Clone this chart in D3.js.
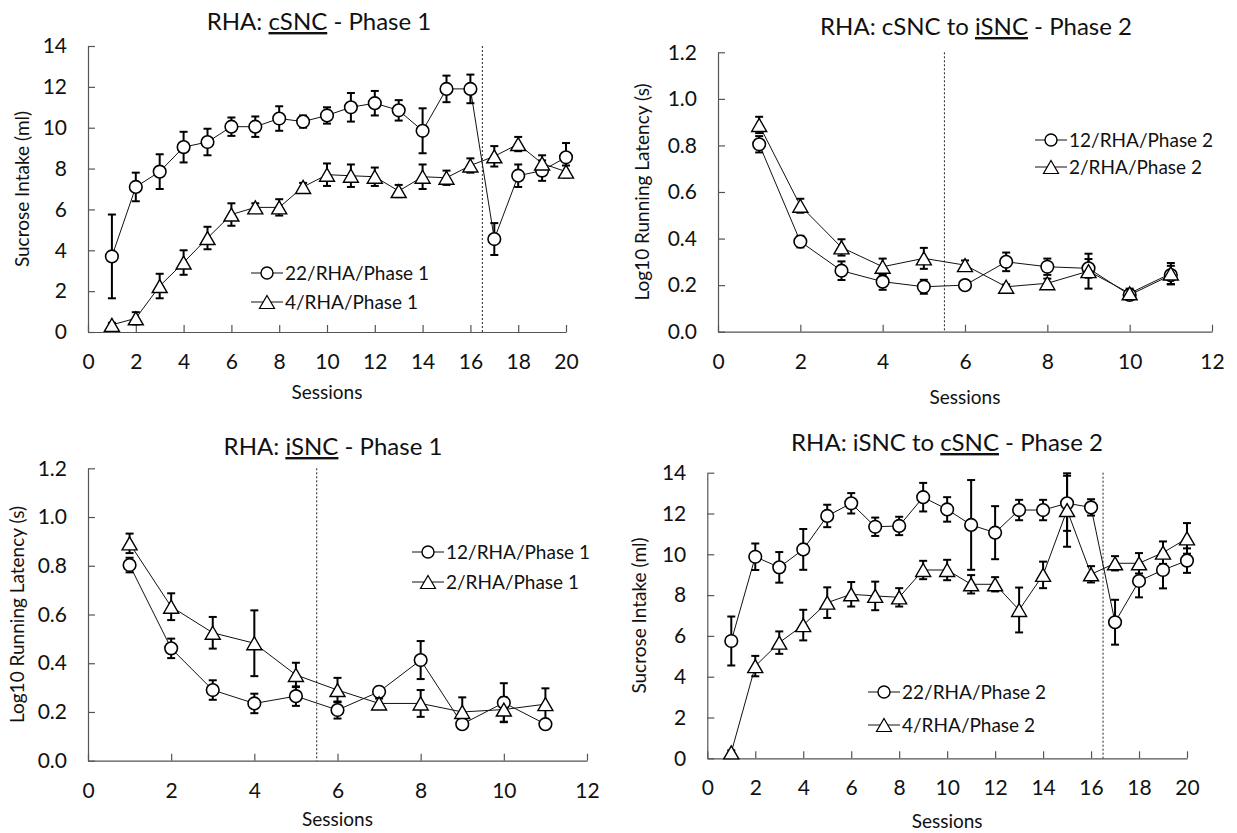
<!DOCTYPE html>
<html>
<head>
<meta charset="utf-8">
<script src="https://cdn.jsdelivr.net/npm/d3@7"></script>
<style>
  body { margin: 0; background: #fff; }
  svg { font-family: Lato, "Open Sans", sans-serif; }
</style>
</head>
<body>
<div id="chart"></div>
<script>
// sessions
const sess20 = [1,2,3,4,5,6,7,8,9,10,11,12,13,14,15,16,17,18,19,20];
const sess11 = [1,2,3,4,5,6,7,8,9,10,11];

// top-left: sucrose intake, phase 1
const p1Circle   = [3.7,7.1,7.85,9.05,9.3,10.05,10.05,10.45,10.3,10.6,11.0,11.2,10.85,9.85,11.9,11.9,4.55,7.65,7.9,8.55];
const p1CircleSE = [2.05,0.7,0.85,0.75,0.65,0.45,0.5,0.6,0.3,0.4,0.7,0.6,0.5,1.1,0.65,0.7,0.78,0.55,0.5,0.7];
const p1Tri      = [0.35,0.67,2.25,3.4,4.6,5.75,6.1,6.1,7.1,7.7,7.65,7.6,6.9,7.6,7.55,8.15,8.6,9.2,8.25,7.85];
const p1TriSE    = [0.1,0.3,0.6,0.6,0.55,0.55,0.2,0.4,0.2,0.55,0.55,0.45,0.3,0.6,0.35,0.35,0.5,0.35,0.4,0.3];

// top-right: latency, phase 2
const p2Circle   = [0.805,0.387,0.262,0.215,0.193,0.2,0.3,0.279,0.272,0.158,0.243];
const p2CircleSE = [0.035,0.025,0.04,0.035,0.03,0.01,0.04,0.035,0.04,0.02,0.04];
const p2Tri      = [0.888,0.541,0.362,0.279,0.315,0.286,0.193,0.208,0.26,0.165,0.25];
const p2TriSE    = [0.035,0.03,0.035,0.035,0.045,0.02,0.01,0.02,0.075,0.02,0.045];

// bottom-left: latency, phase 1
const p3Circle   = [0.803,0.461,0.29,0.235,0.265,0.208,0.283,0.413,0.15,0.238,0.15];
const p3CircleSE = [0.03,0.04,0.04,0.04,0.04,0.035,0.02,0.078,0.01,0.08,0.01];
const p3Tri      = [0.892,0.632,0.525,0.482,0.352,0.29,0.235,0.235,0.2,0.21,0.232];
const p3TriSE    = [0.04,0.055,0.065,0.135,0.05,0.05,0.02,0.055,0.06,0.05,0.065];

// bottom-right: sucrose intake, phase 2
const p4Circle   = [5.75,9.88,9.36,10.24,11.88,12.5,11.35,11.39,12.8,12.2,11.44,11.06,12.17,12.17,12.5,12.3,6.67,8.69,9.23,9.69];
const p4CircleSE = [1.2,0.65,0.75,1.0,0.55,0.5,0.45,0.45,0.7,0.6,2.2,1.3,0.5,0.5,1.35,0.4,1.1,0.8,0.9,0.6];
const p4Tri      = [0.29,4.52,5.67,6.53,7.63,8.04,7.96,7.89,9.23,9.23,8.53,8.53,7.27,8.99,12.17,9.02,9.56,9.56,10.08,10.78];
const p4TriSE    = [0.1,0.5,0.55,0.75,0.75,0.6,0.7,0.45,0.45,0.5,0.45,0.35,1.1,0.65,1.8,0.4,0.35,0.5,0.55,0.75];

const intakeTicks = [0,2,4,6,8,10,12,14];
const latencyTicks = [0,0.2,0.4,0.6,0.8,1.0,1.2];
const sess20Ticks = [0,2,4,6,8,10,12,14,16,18,20];
const sess11Ticks = [0,2,4,6,8,10,12];

const svg = d3.select('#chart').append('svg')
  .attr('width', 1237).attr('height', 833);

const triPath = 'M0,-6.5L7.5,6.5L-7.5,6.5Z';

function panel(o) {
  var x = d3.scaleLinear().domain(o.xDomain).range(o.xRange);
  var y = d3.scaleLinear().domain(o.yDomain).range(o.yRange);
  var g = svg.append('g');

  // axes
  var xa = g.append('g').attr('transform', 'translate(0,' + o.yRange[0] + ')')
    .call(d3.axisBottom(x).tickValues(o.xTicks).tickSizeInner(-7).tickSizeOuter(0).tickPadding(22));
  var ya = g.append('g').attr('transform', 'translate(' + o.xRange[0] + ',0)')
    .call(d3.axisLeft(y).tickValues(o.yTicks).tickSizeInner(-7).tickSizeOuter(0).tickPadding(21)
      .tickFormat(o.yFmt));
  [xa, ya].forEach(function(a) {
    a.attr('font-size', null).attr('font-family', null);
    a.selectAll('path, line').attr('stroke', '#555').attr('stroke-width', 1.2);
    a.selectAll('text').style('font-size', '21px').attr('fill', '#111');
  });

  // divider
  g.append('line')
    .attr('x1', x(o.divider)).attr('x2', x(o.divider))
    .attr('y1', o.yRange[1]).attr('y2', o.yRange[0])
    .attr('stroke', '#222').attr('stroke-width', 1).attr('stroke-dasharray', '2,2');

  var series = [
    {vals: o.circle, se: o.circleSE, shape: 'circle'},
    {vals: o.tri, se: o.triSE, shape: 'tri'}
  ];
  var line = d3.line().x(function(d) { return x(d[0]); }).y(function(d) { return y(d[1]); });

  series.forEach(function(s) {
    g.append('path')
      .attr('d', line(o.sess.map(function(v, i) { return [v, s.vals[i]]; })))
      .attr('fill', 'none').attr('stroke', '#111').attr('stroke-width', 1);
  });

  series.forEach(function(s) {
    var eb = g.append('g').attr('stroke', '#000').attr('stroke-width', 2);
    o.sess.forEach(function(v, i) {
      var cx = x(v), hi = y(s.vals[i] + s.se[i]), lo = y(s.vals[i] - s.se[i]);
      eb.append('line').attr('x1', cx).attr('x2', cx).attr('y1', hi).attr('y2', lo);
      eb.append('line').attr('x1', cx - 4).attr('x2', cx + 4).attr('y1', hi).attr('y2', hi);
      eb.append('line').attr('x1', cx - 4).attr('x2', cx + 4).attr('y1', lo).attr('y2', lo);
    });
  });

  series.forEach(function(s) {
    o.sess.forEach(function(v, i) {
      if (s.shape == 'circle') {
        g.append('circle').attr('cx', x(v)).attr('cy', y(s.vals[i])).attr('r', 6.3)
          .attr('fill', '#fff').attr('stroke', '#000').attr('stroke-width', 1.6);
      } else {
        g.append('path').attr('d', triPath)
          .attr('transform', 'translate(' + x(v) + ',' + y(s.vals[i]) + ')')
          .attr('fill', '#fff').attr('stroke', '#000').attr('stroke-width', 1.4);
      }
    });
  });

  // titles
  var t = g.append('text').attr('x', o.title.x).attr('y', o.title.y)
    .attr('text-anchor', 'middle').style('font-size', '24px').attr('fill', '#111');
  o.title.parts.forEach(function(p) {
    var ts = t.append('tspan').text(p[0]);
    if (p[1]) ts.style('text-decoration', 'underline');
  });

  g.append('text').attr('x', (o.xRange[0] + o.xRange[1]) / 2).attr('y', o.xLabelY)
    .attr('text-anchor', 'middle').style('font-size', '19px').attr('fill', '#111').text('Sessions');

  g.append('text')
    .attr('transform', 'translate(' + o.yLabel.x + ',' + ((o.yRange[0] + o.yRange[1]) / 2) + ') rotate(-90)')
    .attr('text-anchor', 'middle').style('font-size', '19px').attr('fill', '#111').text(o.yLabel.text);

  // legend
  o.legend.names.forEach(function(name, i) {
    var ly = o.legend.y + i * o.legend.dy;
    var lx = o.legend.x;
    g.append('line').attr('x1', lx).attr('x2', lx + 32).attr('y1', ly).attr('y2', ly)
      .attr('stroke', '#111').attr('stroke-width', 1);
    if (i == 0) {
      g.append('circle').attr('cx', lx + 16).attr('cy', ly).attr('r', 6)
        .attr('fill', '#fff').attr('stroke', '#000').attr('stroke-width', 1.4);
    } else {
      g.append('path').attr('d', triPath).attr('transform', 'translate(' + (lx + 16) + ',' + ly + ')')
        .attr('fill', '#fff').attr('stroke', '#000').attr('stroke-width', 1.2);
    }
    g.append('text').attr('x', lx + 34).attr('y', ly + 7).style('font-size', '19px')
      .attr('fill', '#111').text(name);
  });
}

var fmtInt = d3.format('d'), fmt1 = d3.format('.1f');

panel({
  xDomain: [0, 20], xRange: [88, 566], yDomain: [0, 14], yRange: [332, 46],
  xTicks: sess20Ticks, yTicks: intakeTicks, yFmt: fmtInt, divider: 16.5,
  sess: sess20, circle: p1Circle, circleSE: p1CircleSE, tri: p1Tri, triSE: p1TriSE,
  title: {x: 319, y: 30, parts: [['RHA: '], ['cSNC', true], [' - Phase 1']]},
  xLabelY: 399, yLabel: {x: 29, text: 'Sucrose Intake (ml)'},
  legend: {x: 251, y: 273, dy: 29, names: ['22/RHA/Phase 1', '4/RHA/Phase 1']}
});

panel({
  xDomain: [0, 12], xRange: [718, 1212], yDomain: [0, 1.2], yRange: [331.7, 52.3],
  xTicks: sess11Ticks, yTicks: latencyTicks, yFmt: fmt1, divider: 5.5,
  sess: sess11, circle: p2Circle, circleSE: p2CircleSE, tri: p2Tri, triSE: p2TriSE,
  title: {x: 976, y: 35, parts: [['RHA: cSNC to '], ['iSNC', true], [' - Phase 2']]},
  xLabelY: 404, yLabel: {x: 649, text: 'Log10 Running Latency (s)'},
  legend: {x: 1035, y: 140, dy: 27, names: ['12/RHA/Phase 2', '2/RHA/Phase 2']}
});

panel({
  xDomain: [0, 12], xRange: [88, 587], yDomain: [0, 1.2], yRange: [760.7, 468.3],
  xTicks: sess11Ticks, yTicks: latencyTicks, yFmt: fmt1, divider: 5.5,
  sess: sess11, circle: p3Circle, circleSE: p3CircleSE, tri: p3Tri, triSE: p3TriSE,
  title: {x: 333, y: 455, parts: [['RHA: '], ['iSNC', true], [' - Phase 1']]},
  xLabelY: 826, yLabel: {x: 24, text: 'Log10 Running Latency (s)'},
  legend: {x: 412, y: 552, dy: 30, names: ['12/RHA/Phase 1', '2/RHA/Phase 1']}
});

panel({
  xDomain: [0, 20], xRange: [707.3, 1187], yDomain: [0, 14], yRange: [758.3, 472.7],
  xTicks: sess20Ticks, yTicks: intakeTicks, yFmt: fmtInt, divider: 16.5,
  sess: sess20, circle: p4Circle, circleSE: p4CircleSE, tri: p4Tri, triSE: p4TriSE,
  title: {x: 947, y: 451, parts: [['RHA: iSNC to '], ['cSNC', true], [' - Phase 2']]},
  xLabelY: 828, yLabel: {x: 646, text: 'Sucrose Intake (ml)'},
  legend: {x: 868, y: 692, dy: 33, names: ['22/RHA/Phase 2', '4/RHA/Phase 2']}
});
</script>
</body>
</html>
